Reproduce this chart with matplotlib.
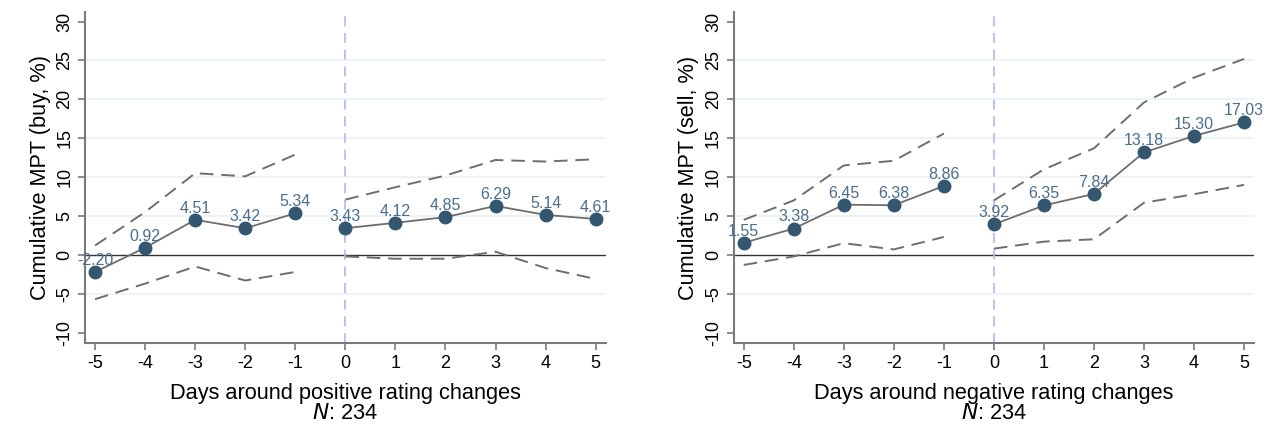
import matplotlib.pyplot as plt

# event window days
days = [-5, -4, -3, -2, -1, 0, 1, 2, 3, 4, 5]

# positive rating changes (buy)
buy_mpt = [-2.20, 0.92, 4.51, 3.42, 5.34, 3.43, 4.12, 4.85, 6.29, 5.14, 4.61]
buy_upper = [1.2, 5.5, 10.5, 10.1, 12.9, 7.1, 8.7, 10.2, 12.2, 12.0, 12.3]
buy_lower = [-5.7, -3.7, -1.5, -3.3, -2.2, -0.2, -0.5, -0.5, 0.4, -1.7, -3.1]

# negative rating changes (sell)
sell_mpt = [1.55, 3.38, 6.45, 6.38, 8.86, 3.92, 6.35, 7.84, 13.18, 15.30, 17.03]
sell_upper = [4.5, 7.0, 11.5, 12.1, 15.6, 7.0, 11.0, 13.7, 19.6, 22.8, 25.2]
sell_lower = [-1.3, -0.2, 1.5, 0.7, 2.3, 0.8, 1.7, 2.0, 6.7, 7.8, 9.0]

yticks = [-10, -5, 0, 5, 10, 15, 20, 25, 30]

plt.rcParams['font.family'] = ['Liberation Sans', 'DejaVu Sans']

MARKER = "#34566f"
LABEL = "#4d6d89"
SPINE = "#7a7a7a"


def draw_panel(ax, mpt, upper, lower, ylabel, xlabel):
    # light horizontal grid
    for y in [-5, 5, 10, 15, 20, 25]:
        ax.axhline(y, color="#e8f1f2", lw=1.2, zorder=0)
    ax.axhline(0, color="#333333", lw=1.0, zorder=1)
    ax.axvline(0, color="#b5b5f5", lw=1.2, ls=(0, (6, 4)), zorder=1)

    # pre- and post-event segments drawn separately
    for seg in (slice(0, 5), slice(5, 11)):
        x = days[seg]
        ax.plot(x, upper[seg], color="#6e6e6e", lw=1.4, ls=(0, (7, 4)), zorder=2)
        ax.plot(x, lower[seg], color="#6e6e6e", lw=1.4, ls=(0, (7, 4)), zorder=2)
        ax.plot(x, mpt[seg], color="#6e6e6e", lw=1.3, marker="o",
                markersize=9, markerfacecolor=MARKER, markeredgecolor=MARKER,
                zorder=3)

    for xi, yi in zip(days, mpt):
        ax.annotate(f"{yi:.2f}", (xi, yi), xytext=(0, 3),
                    textcoords="offset points", color=LABEL, fontsize=11.5,
                    ha="center", va="bottom", zorder=4)

    ax.set_xlim(-5.2, 5.2)
    ax.set_ylim(-11.3, 31.2)
    ax.set_xticks(days)
    ax.set_xticklabels([str(d) for d in days])
    ax.set_yticks(yticks)
    ax.set_yticklabels([str(t) for t in yticks], rotation=90, va="center")
    ax.tick_params(axis="both", colors=SPINE, labelcolor="black",
                   labelsize=13, length=5, width=1.2)
    for s in ("top", "right"):
        ax.spines[s].set_visible(False)
    for s in ("left", "bottom"):
        ax.spines[s].set_color(SPINE)
        ax.spines[s].set_linewidth(1.5)
    ax.set_ylabel(ylabel, fontsize=15.7, labelpad=4)
    ax.set_xlabel(xlabel + "\n$\\it{N}$: 234", fontsize=15.7, labelpad=8,
                  linespacing=0.95)


fig = plt.figure(figsize=(12.69, 4.28), dpi=100)
ax1 = fig.add_axes([0.0670, 0.1993, 0.4103, 0.7720])
ax2 = fig.add_axes([0.5782, 0.1993, 0.4100, 0.7720])

draw_panel(ax1, buy_mpt, buy_upper, buy_lower,
           "Cumulative MPT (buy, %)", "Days around positive rating changes")
draw_panel(ax2, sell_mpt, sell_upper, sell_lower,
           "Cumulative MPT (sell, %)", "Days around negative rating changes")

fig.savefig("out.png", dpi=100)
